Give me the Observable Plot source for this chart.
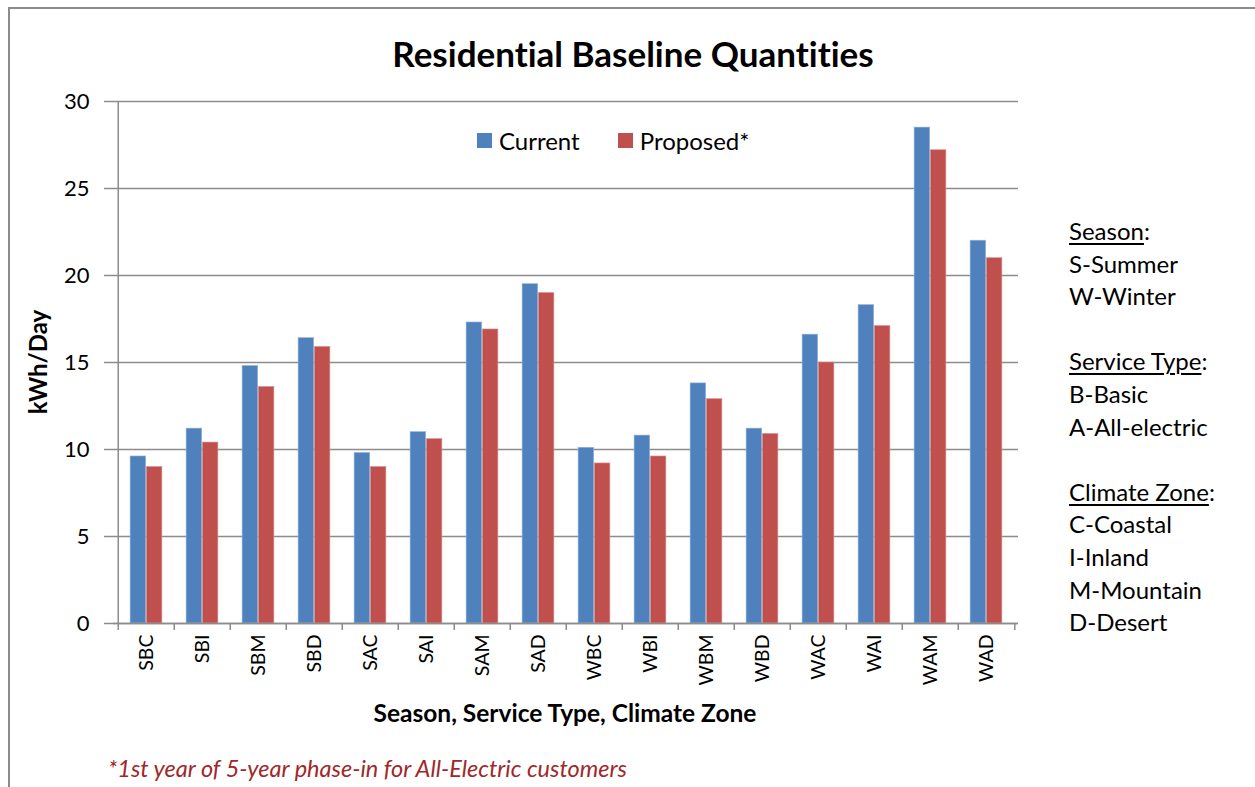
<!DOCTYPE html>
<html>
<head>
<meta charset="utf-8">
<script src="https://cdn.jsdelivr.net/npm/d3@7"></script>
<script src="https://cdn.jsdelivr.net/npm/@observablehq/plot@0.6"></script>
<style>
  html, body { margin: 0; padding: 0; background: #fff; overflow: hidden; }
  body { width: 1255px; height: 787px; position: relative; font-family: Lato, "Open Sans", sans-serif; color: #000; font-variant-ligatures: none; }
  #border { position: absolute; left: 8px; top: 7px; width: 1300px; height: 900px; border: 2px solid #8c8c8c; box-sizing: border-box; }
  #chart { position: absolute; left: 0; top: 0; }
  .ov { position: absolute; white-space: nowrap; }
  #title { left: 633px; top: 53px; font-size: 35px; font-weight: bold; transform: translate(-50%, -50%); }
  #legend { left: 477px; top: 126px; font-size: 24px; display: flex; align-items: center; }
  .sw { display: inline-block; width: 15px; height: 15px; margin-right: 7px; }
  .item { display: flex; align-items: center; margin-right: 38px; }
  #ylabel { left: 37px; top: 362px; font-size: 24px; font-weight: bold; transform: translate(-50%, -50%) rotate(-90deg); }
  #xlabel { left: 565px; top: 712px; font-size: 24.5px; font-weight: bold; transform: translate(-50%, -50%); }
  #notes { left: 1069px; top: 215px; font-size: 24px; line-height: 32.6px; }
  #notes u { text-decoration-thickness: 1.5px; text-underline-offset: 3px; }
  #caption { left: 108px; top: 768px; font-size: 23.5px; font-style: italic; color: #a0282a; transform: translateY(-50%); }
</style>
</head>
<body>
<div id="border"></div>
<div id="chart"></div>
<div class="ov" id="title">Residential Baseline Quantities</div>
<div class="ov" id="legend"></div>
<div class="ov" id="ylabel">kWh/Day</div>
<div class="ov" id="xlabel">Season, Service Type, Climate Zone</div>
<div class="ov" id="notes"></div>
<div class="ov" id="caption">*1st year of 5-year phase-in for All-Electric customers</div>
<script>
// ---- Data ----
const categories = ["SBC","SBI","SBM","SBD","SAC","SAI","SAM","SAD","WBC","WBI","WBM","WBD","WAC","WAI","WAM","WAD"];
const current  = [9.6, 11.2, 14.8, 16.4, 9.8, 11.0, 17.3, 19.5, 10.1, 10.8, 13.8, 11.2, 16.6, 18.3, 28.5, 22.0];
const proposed = [9.0, 10.4, 13.6, 15.9, 9.0, 10.6, 16.9, 19.0, 9.2, 9.6, 12.9, 10.9, 15.0, 17.1, 27.2, 21.0];
const seriesNames = ["Current", "Proposed*"];
const seriesColors = ["#4f81bd", "#c0504d"];
const yTicks = [0, 5, 10, 15, 20, 25, 30];
const notes = [
  ["Season", ["S-Summer", "W-Winter"]],
  ["Service Type", ["B-Basic", "A-All-electric"]],
  ["Climate Zone", ["C-Coastal", "I-Inland", "M-Mountain", "D-Desert"]]
];

const rowsCurrent = categories.map((c, i) => ({cat: c, value: current[i]}));
const rowsProposed = categories.map((c, i) => ({cat: c, value: proposed[i]}));

// ---- Layout ----
const W = 1255, H = 787;
const mL = 113, mR = 237, mT = 101, mB = 164;
const step = (W - mL - mR) / categories.length;
const barW = step * 0.286;
const gap = (step - 2 * barW) / 2;
const grid = "#8c8c8c";

const chart = Plot.plot({
  width: W,
  height: H,
  marginLeft: mL,
  marginRight: mR,
  marginTop: mT,
  marginBottom: mB,
  style: {fontFamily: "Lato, 'Open Sans', sans-serif", color: "#000", background: "transparent", overflow: "visible"},
  x: {type: "band", domain: categories, padding: 0, label: null},
  y: {domain: [0, 30], label: null},
  marks: [
    Plot.gridY(yTicks, {stroke: grid, strokeOpacity: 1, strokeWidth: 1.5}),
    Plot.barY(rowsCurrent, {x: "cat", y: "value", fill: seriesColors[0], stroke: "#9db5d8", strokeWidth: 0.6, insetLeft: gap, insetRight: gap + barW}),
    Plot.barY(rowsProposed, {x: "cat", y: "value", fill: seriesColors[1], stroke: "#dc9c9a", strokeWidth: 0.6, insetLeft: gap + barW, insetRight: gap}),
    Plot.axisY({ticks: yTicks, tickSize: 9, tickPadding: 15, fontSize: 22, stroke: grid, strokeWidth: 1.5, label: null}),
    Plot.axisX({tickSize: 0, tickRotate: -90, tickPadding: 11, fontSize: 19.5, label: null}),
    Plot.axisX(categories, {tickSize: 7, dx: -step / 2, tickFormat: () => "", stroke: grid, strokeWidth: 1.5, label: null}),
    Plot.axisX([categories[categories.length - 1]], {tickSize: 7, dx: step / 2, tickFormat: () => "", stroke: grid, strokeWidth: 1.5, label: null}),
    Plot.ruleX([categories[0]], {dx: -step / 2, y1: 0, y2: 30, stroke: grid, strokeWidth: 1.5}),
    Plot.ruleY([0], {stroke: grid, strokeWidth: 1.5})
  ]
});
document.getElementById("chart").appendChild(chart);

// legend
const leg = document.getElementById("legend");
seriesNames.forEach((n, i) => {
  const it = document.createElement("span");
  it.className = "item";
  it.innerHTML = `<span class="sw" style="background:${seriesColors[i]}"></span>${n}`;
  leg.appendChild(it);
});

// notes
document.getElementById("notes").innerHTML = notes.map(([h, lines]) =>
  `<div><u>${h}</u>:</div>` + lines.map(l => `<div>${l}</div>`).join("")
).join("<div>&nbsp;</div>");
</script>
</body>
</html>
